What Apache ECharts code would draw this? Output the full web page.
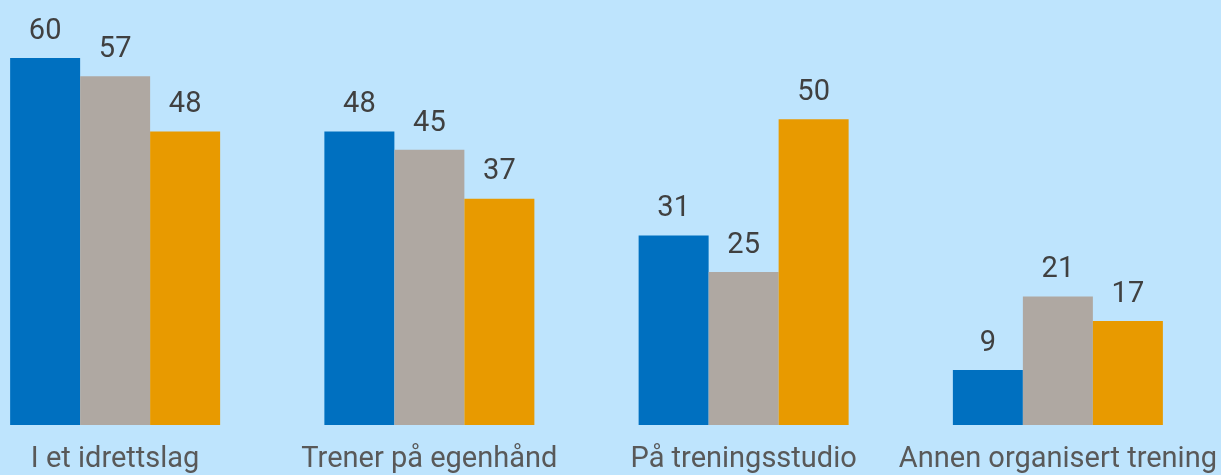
<!DOCTYPE html>
<html><head><meta charset="utf-8">
<script src="https://cdn.jsdelivr.net/npm/echarts@6/dist/echarts.min.js"></script>
<style>html,body{margin:0;padding:0;background:#bee4fd;}#c{width:1221px;height:475px;}</style>
</head><body><div id="c"></div>
<script>
const categories = ["I et idrettslag", "Trener på egenhånd", "På treningsstudio", "Annen organisert trening"];
const seriesA = [60, 48, 31, 9];
const seriesB = [57, 45, 25, 21];
const seriesC = [48, 37, 50, 17];
const colors = ["#0070c0", "#afa8a2", "#e89a00"];
const chart = echarts.init(document.getElementById('c'), null, {renderer: 'canvas'});
const lbl = {show: true, position: 'top', distance: 12, color: '#404040', fontSize: 29, fontFamily: 'Roboto'};
chart.setOption({
  backgroundColor: '#bee4fd',
  animation: false,
  grid: {left: -42, width: 1257, top: 58, height: 367, containLabel: false, outerBoundsMode: 'none'},
  xAxis: {type: 'category', data: categories, axisLine: {show: false}, axisTick: {show: false},
    axisLabel: {color: '#595959', fontSize: 29, fontFamily: 'Roboto', margin: 20, interval: 0, hideOverlap: false}},
  yAxis: {type: 'value', min: 0, max: 60, show: false},
  series: [seriesA, seriesB, seriesC].map((d, i) => ({
    type: 'bar', data: d, barWidth: 70, barGap: '0%', itemStyle: {color: colors[i]}, label: lbl
  }))
});
</script></body></html>
